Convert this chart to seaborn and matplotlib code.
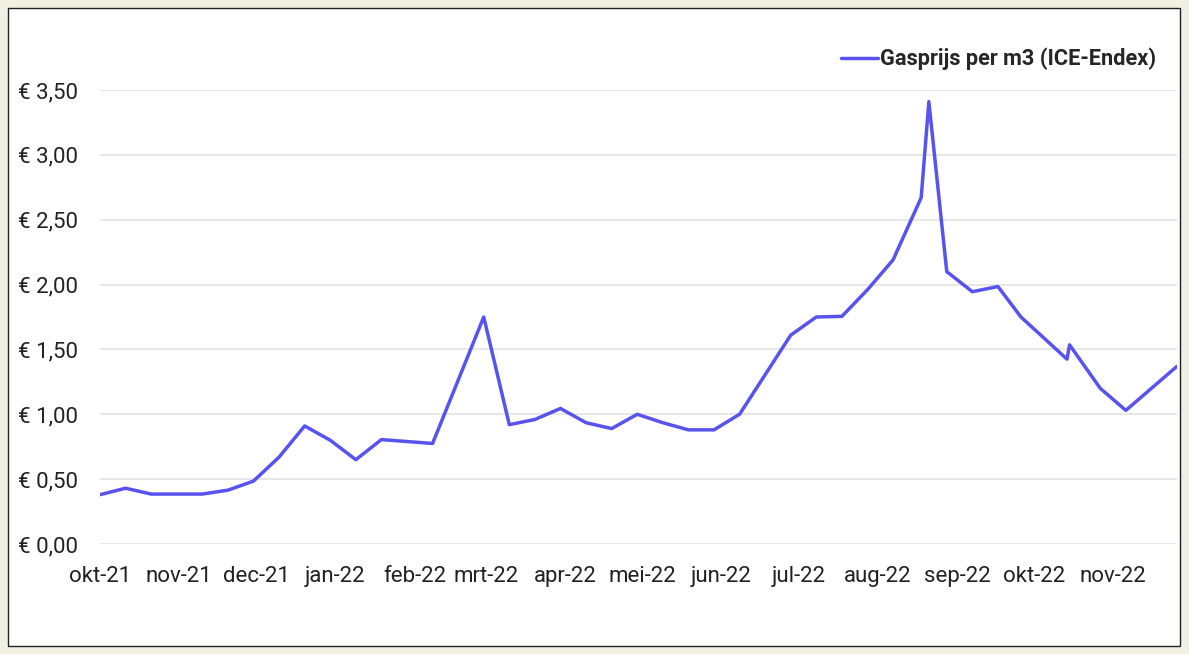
#!/usr/bin/env python3

import matplotlib as mpl
mpl.use('Agg')
import matplotlib.pyplot as plt
import matplotlib.ticker as ticker
import matplotlib.patches as patches
import pandas as pd
import seaborn as sns

sns.set_style("white")
plt.rcParams['font.family'] = ['Roboto', 'DejaVu Sans']

########## DATA ###########
dates = ['2021-10-01', '2021-10-11', '2021-10-21', '2021-10-31', '2021-11-10',
         '2021-11-20', '2021-11-30', '2021-12-10', '2021-12-20', '2021-12-30',
         '2022-01-09', '2022-01-19', '2022-01-29', '2022-02-08', '2022-02-28',
         '2022-03-10', '2022-03-20', '2022-03-30', '2022-04-09', '2022-04-19',
         '2022-04-29', '2022-05-09', '2022-05-19', '2022-05-29', '2022-06-08',
         '2022-06-28', '2022-07-08', '2022-07-18', '2022-07-28', '2022-08-07',
         '2022-08-18', '2022-08-21', '2022-08-28', '2022-09-07', '2022-09-17',
         '2022-09-26', '2022-10-14', '2022-10-15', '2022-10-27', '2022-11-06',
         '2022-11-26']
prices = [0.38, 0.43, 0.385, 0.385, 0.385,
          0.415, 0.485, 0.67, 0.91, 0.80,
          0.65, 0.805, 0.79, 0.775, 1.75,
          0.92, 0.96, 1.045, 0.935, 0.89,
          1.00, 0.935, 0.88, 0.88, 1.00,
          1.61, 1.75, 1.755, 1.96, 2.19,
          2.67, 3.41, 2.10, 1.945, 1.985,
          1.75, 1.425, 1.535, 1.20, 1.03,
          1.37]
series_name = 'Gasprijs per m3 (ICE-Endex)'

tick_dates = ['2021-10-01', '2021-11-01', '2021-12-01', '2022-01-01', '2022-02-01',
              '2022-03-01', '2022-04-01', '2022-05-01', '2022-06-01', '2022-07-01',
              '2022-08-01', '2022-09-01', '2022-10-01', '2022-11-01']
tick_labels = ['okt-21', 'nov-21', 'dec-21', 'jan-22', 'feb-22', 'mrt-22', 'apr-22',
               'mei-22', 'jun-22', 'jul-22', 'aug-22', 'sep-22', 'okt-22', 'nov-22']
y_ticks = [0.0, 0.5, 1.0, 1.5, 2.0, 2.5, 3.0, 3.5]

df = pd.DataFrame({'datum': pd.to_datetime(dates), 'prijs': prices})

########## PLOT ###########
fig = plt.figure(figsize=(11.89, 6.54), dpi=100)
fig.patch.set_facecolor('#f2f0e3')
# white card behind the chart
card = patches.Rectangle((8 / 1189, 8 / 654), 1172 / 1189, 638 / 654,
                         transform=fig.transFigure, facecolor='white',
                         edgecolor='#222222', lw=1.0, zorder=-5)
fig.patches.append(card)

ax = fig.add_axes([100 / 1189, 1 - 544 / 654, 1077 / 1189, 454 / 654])
ax.set_facecolor('none')

sns.lineplot(data=df, x='datum', y='prijs', ax=ax, color='#5853ef',
             linewidth=2.5, label=series_name)

ax.set_xlim(pd.Timestamp(dates[0]), pd.Timestamp(dates[-1]))
ax.set_ylim(0, 3.5)
ax.set_xticks(pd.to_datetime(tick_dates))
ax.set_xticklabels(tick_labels)
ax.set_yticks(y_ticks)
ax.yaxis.set_major_formatter(ticker.FuncFormatter(
    lambda v, p: '€ ' + f'{v:.2f}'.replace('.', ',')))
ax.set_xlabel('')
ax.set_ylabel('')
ax.tick_params(axis='both', length=0, labelsize=16, colors='#222222')
ax.tick_params(axis='y', pad=16)
ax.tick_params(axis='x', pad=16)
ax.grid(axis='y', color='#e3e3e3', lw=1.2)
ax.grid(axis='x', visible=False)
for s in ax.spines.values():
    s.set_visible(False)

leg = ax.legend(loc='lower right', bbox_to_anchor=(0.997, 1.005), frameon=False,
                handlelength=1.7, handletextpad=0.1, borderaxespad=0.4,
                prop={'weight': 'bold', 'size': 15.7})

fig.savefig('out.png', dpi=100, facecolor=fig.get_facecolor())
